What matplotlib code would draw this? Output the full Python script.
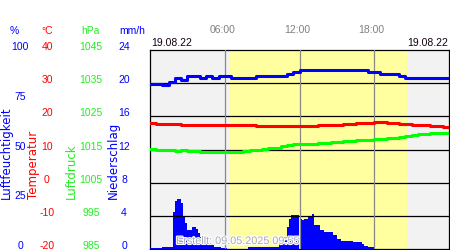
import matplotlib
matplotlib.use('Agg')
import numpy as np
import matplotlib.pyplot as plt
import matplotlib.transforms as mtransforms
import matplotlib.patheffects as pe

plt.rcParams['font.family'] = ['Liberation Sans', 'DejaVu Sans']

# half-hourly readings 00:00 .. 24:00
hours = np.arange(0, 24.5, 0.5)
humidity = [82.9, 82.9, 82.5, 84.0, 85.8, 85.0, 86.9, 86.9, 85.8, 86.9,
            85.8, 86.9, 86.9, 85.8, 85.8, 85.8, 85.8, 87.1, 87.1, 87.1,
            87.1, 87.1, 87.8, 88.8, 89.8, 89.8, 89.8, 89.8, 89.8, 89.8,
            89.8, 89.8, 89.8, 89.8, 89.8, 88.8, 88.8, 87.8, 87.8, 87.8,
            86.9, 85.8, 85.8, 85.8, 85.8, 85.8, 85.8, 85.8, 85.8]
temperature = [17.9, 17.6, 17.6, 17.6, 17.6, 17.3, 17.3, 17.3, 17.3, 17.3,
               17.3, 17.3, 17.3, 17.3, 17.3, 17.3, 17.3, 17.0, 17.0, 17.0,
               17.0, 17.0, 17.0, 17.0, 17.0, 17.0, 17.0, 17.3, 17.3, 17.3,
               17.3, 17.6, 17.6, 17.9, 17.9, 17.9, 18.2, 18.2, 17.9, 17.9,
               17.6, 17.6, 17.3, 17.3, 17.3, 17.0, 17.0, 16.8, 16.8]
pressure = [1015.1, 1014.8, 1014.8, 1014.8, 1014.5, 1014.8, 1014.5, 1014.5,
            1014.2, 1014.2, 1014.2, 1014.2, 1014.2, 1014.2, 1014.2, 1014.5,
            1015.0, 1015.0, 1015.1, 1015.4, 1015.4, 1016.0, 1016.5, 1016.7,
            1016.7, 1016.7, 1016.7, 1017.0, 1017.0, 1017.3, 1017.3, 1017.6,
            1017.6, 1017.9, 1017.9, 1017.9, 1018.2, 1018.2, 1018.5, 1018.5,
            1018.9, 1019.2, 1019.3, 1019.8, 1019.8, 1020.0, 1020.0, 1020.0,
            1020.0]

# 10-minute precipitation (mm/h)
precip = ([0.15] * 6 + [0.3] * 5 +
          [4.5, 5.8, 6.0, 6.0, 5.5, 4.0, 3.1, 2.3, 2.3, 2.6, 2.6, 2.4, 1.9,
           1.5, 1.3, 1.1, 1.0, 0.7, 0.6, 0.5, 0.3, 0.3, 0.2, 0.1, 0.1, 0.1] +
          [0.0] * 10 + [0.3] * 15 +
          [0.8, 0.8, 1.5, 1.5, 2.7, 3.6, 4.1, 4.1, 4.1, 4.1, 3.6, 3.5, 3.6,
           3.6, 4.0, 4.0, 4.2, 2.9, 2.9, 2.9, 2.3, 2.3, 2.0, 2.0, 2.0, 2.0,
           1.7, 1.7, 1.2, 1.2, 1.0, 1.0, 1.0, 1.0, 0.95, 0.95, 0.9, 0.8,
           0.8, 0.8, 0.6, 0.4, 0.4, 0.2, 0.2, 0.2] +
          [0.0] * 36)
precip_hours = np.arange(len(precip)) / 6.0

sunrise, sunset = 6.45, 20.6
hum_ticks = [0, 25, 50, 75, 100]
temp_ticks = [-20, -10, 0, 10, 20, 30, 40]
press_ticks = [985, 995, 1005, 1015, 1025, 1035, 1045]
rain_ticks = [0, 4, 8, 12, 16, 20, 24]
time_ticks = [6, 12, 18]
time_labels = ['06:00', '12:00', '18:00']
date_label = '19.08.22'

W, H = 450, 250
fig = plt.figure(figsize=(W / 100, H / 100), dpi=100)
ax = fig.add_axes([150 / W, 1 / H, 299 / W, 199 / H])
ax.set_xlim(0, 24)
ax.set_facecolor('#f2f2f2')
ax.axvspan(sunrise, sunset, color='#ffffa0', lw=0)
ax.set_xticks([])
ax.set_yticks([])
for s in ax.spines.values():
    s.set_linewidth(0.9)
    s.set_zorder(10)

ax_r = ax.twinx()
ax_r.set_ylim(rain_ticks[0], rain_ticks[-1])
ax_r.bar(precip_hours, precip, width=1 / 6, align='edge', color='#0000ff', lw=0)
for v in rain_ticks[1:-1]:
    ax_r.axhline(v, color='black', lw=0.9)
for t in time_ticks:
    ax_r.axvline(t, color='#888888', lw=0.9)

ax_h = ax.twinx()
ax_h.set_ylim(hum_ticks[0], hum_ticks[-1])
ax_h.plot(hours, humidity, color='#0000ff', lw=2.2, drawstyle='steps-post')

ax_p = ax.twinx()
ax_p.set_ylim(press_ticks[0], press_ticks[-1])
ax_p.plot(hours, pressure, color='#00ff00', lw=2.2, drawstyle='steps-post')

ax_t = ax.twinx()
ax_t.set_ylim(temp_ticks[0], temp_ticks[-1])
ax_t.plot(hours, temperature, color='#ff0000', lw=2.2, drawstyle='steps-post')

for a in (ax_r, ax_h, ax_p, ax_t):
    a.set_axis_off()
    a.set_xlim(0, 24)

up = mtransforms.ScaledTranslation(0, 0.03, fig.dpi_scale_trans)
scales = [(ax_h, hum_ticks, 20, '#0000ff', '%', 14, 'Luftfeuchtigkeit', 6),
          (ax_t, temp_ticks, 47, '#ff0000', '°C', 47, 'Temperatur', 34),
          (ax_p, press_ticks, 91, '#22ee22', 'hPa', 90, 'Luftdruck', 71),
          (ax_r, rain_ticks, 124, '#0000ff', 'mm/h', 132, 'Niederschlag', 113)]
for a, ticks, xc, col, unit, xu, name, xn in scales:
    tr = mtransforms.blended_transform_factory(fig.transFigure, a.transData) + up
    for v in ticks:
        a.text(xc / W, v, str(v), transform=tr, ha='center', va='center',
               color=col, fontsize=7.5, clip_on=False)
    fig.text(xu / W, 1 - 31 / H, unit, ha='center', va='center', color=col, fontsize=7.5)
    fig.text(xn / W, 1 - 199 / H, name, rotation=90, ha='center', va='bottom',
             color=col, fontsize=8.5, family='DejaVu Sans')

ttr = mtransforms.blended_transform_factory(ax.transData, fig.transFigure)
for t, lab in zip(time_ticks, time_labels):
    ax.text(t - 0.2, 1 - 30 / H, lab, transform=ttr, ha='center', va='center',
            color='#808080', fontsize=7.5, clip_on=False)

fig.text(151 / W, 1 - 43 / H, date_label, ha='left', va='center', color='#100010', fontsize=7.5)
fig.text(448 / W, 1 - 43 / H, date_label, ha='right', va='center', color='#100010', fontsize=7.5)

fig.text(176 / W, 1 - 241 / H, 'Erstellt: 09.05.2025 09:55', ha='left', va='center',
         color='#a8a8b8', fontsize=7.8,
         path_effects=[pe.withStroke(linewidth=1.5, foreground='white')])

fig.savefig('out.png', dpi=100)
